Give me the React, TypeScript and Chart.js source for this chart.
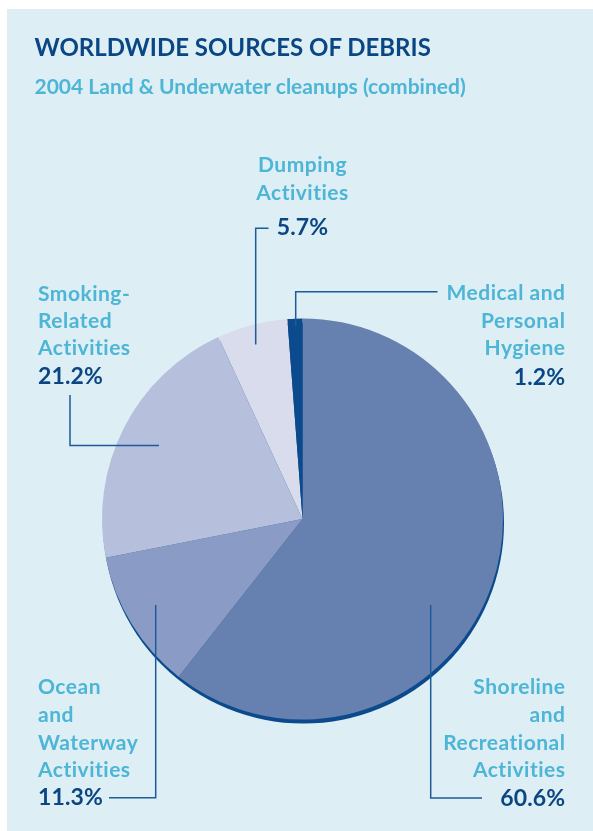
import React, { useEffect, useRef } from "react";
import { Chart, registerables } from "chart.js";

Chart.register(...registerables);

// ---- data ----
const categories = [
  "Shoreline and Recreational Activities",
  "Ocean and Waterway Activities",
  "Smoking-Related Activities",
  "Dumping Activities",
  "Medical and Personal Hygiene",
];
const values = [60.6, 11.3, 21.2, 5.7, 1.2];
const sliceColors = ["#6680b0", "#8a9cc6", "#b6bfdc", "#d8dcec", "#0b4a8c"];
const labelLines = [
  ["Shoreline", "and", "Recreational", "Activities"],
  ["Ocean", "and", "Waterway", "Activities"],
  ["Smoking-", "Related", "Activities"],
  ["Dumping", "Activities"],
  ["Medical and", "Personal", "Hygiene"],
];
const percentLabels = values.map((v) => v.toFixed(1) + "%");

const TITLE = "WORLDWIDE SOURCES OF DEBRIS";
const SUBTITLE = "2004 Land & Underwater cleanups (combined)";

// ---- layout (annotation placement only) ----
const W = 593;
const H = 831;
const FONT = "Lato, 'Open Sans', sans-serif";
const NAVY = "#0b4684";
const CYAN = "#4db5d5";
const LINE = "#1d5b9b";
const BG = "#ddeef5";

type Place = { x: number; align: "left" | "right" | "center"; baselines: number[]; pctBaseline: number };
const placements: Place[] = [
  { x: 565, align: "right", baselines: [694, 721.7, 749.3, 776.7], pctBaseline: 807 },
  { x: 38, align: "left", baselines: [694, 721.7, 749.3, 776.7], pctBaseline: 806 },
  { x: 38, align: "left", baselines: [300.5, 327.7, 355], pctBaseline: 385 },
  { x: 302.5, align: "center", baselines: [171.7, 199.5], pctBaseline: 236 },
  { x: 565, align: "right", baselines: [300, 327.3, 354.5], pctBaseline: 386 },
];

const leaderLines: number[][][] = [
  [[430.7, 605], [430.7, 798], [482, 798]],
  [[155.7, 605], [155.7, 797.7], [109, 797.7]],
  [[70, 395], [70, 445.5], [159, 445.5]],
  [[268.5, 228.3], [255.7, 228.3], [255.7, 344.5]],
  [[295.7, 326], [295.7, 291.8], [437.5, 291.8]],
];

const LABEL_SIZE = 21;
const PCT_SIZE = 23;
const ASC = 0.987;

function TextLine(props: {
  text: string;
  x: number;
  baseline: number;
  size: number;
  color: string;
  align: "left" | "right" | "center";
  spacing?: number;
}) {
  const { text, x, baseline, size, color, align, spacing } = props;
  const top = baseline - ASC * size;
  const style: React.CSSProperties = {
    position: "absolute",
    top,
    fontFamily: FONT,
    fontSize: size,
    lineHeight: `${1.2 * size}px`,
    fontWeight: 700,
    color,
    whiteSpace: "nowrap",
    letterSpacing: spacing ?? 0,
    fontVariantLigatures: "none",
  };
  if (align === "left") style.left = x;
  else if (align === "right") style.right = W - x - (spacing ?? 0);
  else {
    style.left = x - 200;
    style.width = 400;
    style.textAlign = "center";
  }
  return <div style={style}>{text}</div>;
}

export default function App() {
  const canvasRef = useRef<HTMLCanvasElement | null>(null);

  useEffect(() => {
    if (!canvasRef.current) return;

    const shadowPlugin = {
      id: "pieShadow",
      beforeDatasetsDraw(chart: any) {
        const arc = chart.getDatasetMeta(0).data[0];
        if (!arc) return;
        const { x, y, outerRadius } = arc.getProps(["x", "y", "outerRadius"], true);
        const ctx = chart.ctx;
        ctx.save();
        ctx.fillStyle = "#0b4a8c";
        ctx.beginPath();
        ctx.arc(x + 1, y + 4, outerRadius, 0, Math.PI * 2);
        ctx.fill();
        ctx.restore();
      },
    };

    const leaderPlugin = {
      id: "leaders",
      afterDatasetsDraw(chart: any) {
        const ctx = chart.ctx;
        ctx.save();
        ctx.strokeStyle = LINE;
        ctx.lineWidth = 1.5;
        ctx.lineJoin = "miter";
        leaderLines.forEach((pts) => {
          ctx.beginPath();
          pts.forEach((p, i) => (i === 0 ? ctx.moveTo(p[0], p[1]) : ctx.lineTo(p[0], p[1])));
          ctx.stroke();
        });
        ctx.restore();
      },
    };

    const chart = new Chart(canvasRef.current, {
      type: "pie",
      data: {
        labels: categories,
        datasets: [
          {
            data: values,
            backgroundColor: sliceColors,
            borderWidth: 0,
            hoverOffset: 0,
          },
        ],
      },
      options: {
        animation: false,
        responsive: false,
        maintainAspectRatio: false,
        events: [],
        layout: { padding: { left: 102, right: 90, top: 318.5, bottom: 111.5 } },
        plugins: {
          legend: { display: false },
          tooltip: { enabled: false },
        },
      },
      plugins: [shadowPlugin, leaderPlugin],
    });
    return () => chart.destroy();
  }, []);

  return (
    <div style={{ position: "absolute", left: 0, top: 0, width: W, height: H, background: "#ffffff", overflow: "hidden" }}>
      <div style={{ position: "absolute", left: 7, top: 9, width: W - 7, height: H - 9, background: BG }} />
      <canvas
        ref={canvasRef}
        width={W}
        height={H}
        style={{ position: "absolute", left: 0, top: 0, width: W, height: H }}
      />
      <TextLine text={TITLE} x={34.5} baseline={56.7} size={24} color={NAVY} align="left" />
      <TextLine text={SUBTITLE} x={34.5} baseline={93.3} size={21} color={CYAN} align="left" />
      {placements.map((p, i) => (
        <React.Fragment key={i}>
          {labelLines[i].map((t, j) => (
            <TextLine key={j} text={t} x={p.x} baseline={p.baselines[j]} size={LABEL_SIZE} color={CYAN} align={p.align} spacing={0.5} />
          ))}
          <TextLine text={percentLabels[i]} x={p.x} baseline={p.pctBaseline} size={PCT_SIZE} color={NAVY} align={p.align} spacing={0.1} />
        </React.Fragment>
      ))}
    </div>
  );
}
